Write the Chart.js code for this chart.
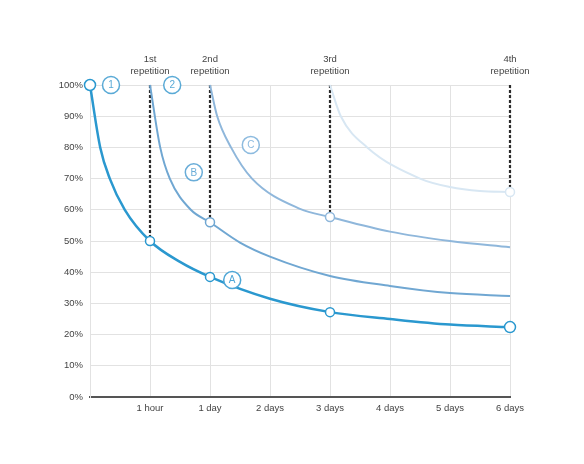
<!DOCTYPE html>
<html>
<head>
<meta charset="utf-8">
<script src="https://cdn.jsdelivr.net/npm/chart.js@4"></script>
<style>
  html, body { margin: 0; padding: 0; background: #fff; }
  #wrap { width: 584px; height: 464px; }
</style>
</head>
<body>
<div id="wrap"><canvas id="forgetChart" width="584" height="464"></canvas></div>
<script>
const xLabels = ["", "1 hour", "1 day", "2 days", "3 days", "4 days", "5 days", "6 days"]
const yTicks = [0, 10, 20, 30, 40, 50, 60, 70, 80, 90, 100]

// curve samples (x in tick units, y in %)
const curveAx = [0, 0.17, 0.33, 0.58, 1, 1.5, 2, 3, 4, 5, 6, 7]
const curveAy = [100, 80, 70, 60, 50, 43.3, 38.5, 31.5, 27.2, 25, 23.2, 22.4]
const curveBx = [1, 1.17, 1.33, 1.68, 2, 2.5, 3, 4, 5, 6, 7]
const curveBy = [100, 80, 70, 60, 56, 49.5, 45, 38.8, 35.6, 33.3, 32.4]
const curveCx = [2, 2.12, 2.35, 2.7, 3.5, 4, 5, 6, 7]
const curveCy = [100, 90, 80, 70, 60.3, 57.7, 53, 50, 48]
const curveDx = [4, 4.18, 4.62, 5.5, 6, 6.5, 7]
const curveDy = [100, 90, 80, 70, 67.3, 66, 65.7]

const markersA = [0, 1, 2, 4, 7]
const markersB = [2]
const markersC = [4]
const markersD = [7]

const repX = [1, 2, 4, 7]
const repEnd = [50, 56, 57.7, 65.7]
const repLabels = ["1st", "2nd", "3rd", "4th"]

const badgeText = ["1", "2", "A", "B", "C"]
const badgeX = [0.35, 1.37, 2.37, 1.73, 2.68]
const badgeY = [100, 100, 37.5, 72, 80.8]
const badgeColor = ["#5aaad6", "#5aaad6", "#4ea6d6", "#6aadd8", "#8dbbdf"]

const FONT = "'Liberation Sans', Arial, sans-serif"

const toPts = (xs, ys) => xs.map((x, i) => ({ x: x, y: ys[i] }))

const curve = (xs, ys, color, width, marks, firstBig) => ({
  data: toPts(xs, ys),
  borderColor: color,
  borderWidth: width,
  backgroundColor: "#fff",
  pointBackgroundColor: "#fff",
  pointBorderColor: color,
  pointBorderWidth: 1.5,
  pointRadius: ctx => {
    const x = xs[ctx.dataIndex]
    if (!marks.includes(x)) return 0
    return (firstBig && (x === 0 || x === 7)) ? 5.5 : 4.5
  },
  cubicInterpolationMode: "monotone",
  clip: false,
  order: 0
})

const datasets = [
  curve(curveAx, curveAy, "#2a98cf", 2.5, markersA, true),
  curve(curveBx, curveBy, "#70a7d2", 2, markersB, false),
  curve(curveCx, curveCy, "#8fb7db", 2, markersC, false),
  curve(curveDx, curveDy, "#d8e7f3", 2, markersD, false)
]

repX.forEach((x, i) => {
  datasets.push({
    data: [{ x: x, y: 100 }, { x: x, y: repEnd[i] }],
    borderColor: "#2b2b2b",
    borderWidth: 2.2,
    borderDash: [3, 2],
    pointRadius: 0,
    clip: false,
    order: 5
  })
})

const annotations = {
  id: "annotations",
  afterDatasetsDraw(chart) {
    const { ctx, scales } = chart
    ctx.save()
    // repetition labels above the chart
    ctx.fillStyle = "#444"
    ctx.font = "9.5px " + FONT
    ctx.textAlign = "center"
    ctx.textBaseline = "middle"
    repX.forEach((x, i) => {
      const px = scales.x.getPixelForValue(x)
      ctx.fillText(repLabels[i], px, 59)
      ctx.fillText("repetition", px, 71)
    })
    // circled badges
    badgeText.forEach((t, i) => {
      const px = scales.x.getPixelForValue(badgeX[i])
      const py = scales.y.getPixelForValue(badgeY[i])
      ctx.beginPath()
      ctx.arc(px, py, 8.5, 0, Math.PI * 2)
      ctx.fillStyle = "#fff"
      ctx.fill()
      ctx.lineWidth = 1.5
      ctx.strokeStyle = badgeColor[i]
      ctx.stroke()
      ctx.fillStyle = badgeColor[i]
      ctx.font = "10px " + FONT
      ctx.fillText(t, px, py + 0.5)
    })
    ctx.restore()
  }
}

const myChart = new Chart(document.getElementById("forgetChart"), {
  type: "line",
  data: { datasets: datasets },
  options: {
    responsive: false,
    animation: false,
    layout: { padding: { top: 85, right: 74, bottom: 0, left: 0 } },
    plugins: { legend: { display: false }, tooltip: { enabled: false } },
    scales: {
      x: {
        type: "linear",
        min: 0,
        max: 7,
        afterFit: scale => { scale.height = 67 },
        afterBuildTicks: scale => { scale.ticks = xLabels.map((l, i) => ({ value: i })) },
        ticks: {
          callback: v => xLabels[v],
          color: "#444",
          font: { family: FONT, size: 9.5 },
          padding: 6,
          maxRotation: 0,
          autoSkip: false
        },
        grid: { color: "#e2e2e2", drawTicks: false },
        border: { color: "#555", width: 2 }
      },
      y: {
        min: 0,
        max: 100,
        afterFit: scale => { scale.width = 90 },
        afterBuildTicks: scale => { scale.ticks = yTicks.map(v => ({ value: v })) },
        ticks: {
          callback: v => v + "%",
          color: "#444",
          font: { family: FONT, size: 9.5 },
          padding: 7
        },
        grid: { color: "#e2e2e2", drawTicks: false },
        border: { color: "#e2e2e2", width: 1 }
      }
    }
  },
  plugins: [annotations]
})
</script>
</body>
</html>
